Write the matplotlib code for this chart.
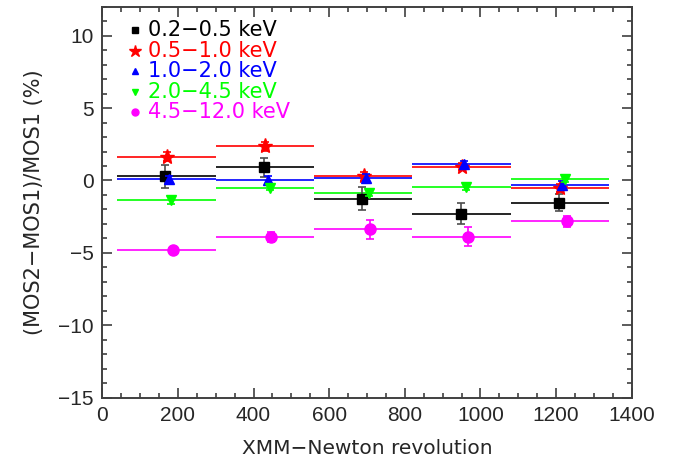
import numpy as np
import matplotlib
matplotlib.use('Agg')
import matplotlib.pyplot as plt

plt.rcParams['font.family'] = ['Liberation Sans', 'DejaVu Sans']

# bin edges in revolutions
bin_edges = [40, 300, 560, 820, 1080, 1340]

bands = ['0.2\u22120.5 keV', '0.5\u22121.0 keV', '1.0\u22122.0 keV',
         '2.0\u22124.5 keV', '4.5\u221212.0 keV']
colors = ['black', '#ff0000', '#0000ff', '#00ff00', '#ff00ff']
markers = ['s', '*', '^', 'v', 'o']
msizes = [7.5, 11, 7.5, 7.5, 8]
leg_msizes = [5, 9, 5, 5, 5]

# x position of each point (revolution)
rev_black = [166, 428, 687, 948, 1207]
rev_red = [172, 431, 692, 952, 1211]
rev_blue = [177, 437, 697, 956, 1216]
rev_green = [182, 443, 704, 963, 1223]
rev_magenta = [188, 447, 708, 968, 1228]

# (MOS2-MOS1)/MOS1 in percent
diff_black = [0.28, 0.90, -1.25, -2.29, -1.55]
diff_red = [1.65, 2.36, 0.28, 0.95, -0.53]
diff_blue = [0.07, 0.03, 0.19, 1.14, -0.32]
diff_green = [-1.36, -0.49, -0.85, -0.46, 0.09]
diff_magenta = [-4.81, -3.93, -3.38, -3.89, -2.80]

err_black = [0.80, 0.68, 0.80, 0.72, 0.59]
err_red = [0.30, 0.30, 0.30, 0.25, 0.30]
err_blue = [0.25, 0.25, 0.25, 0.20, 0.25]
err_green = [0.25, 0.20, 0.20, 0.20, 0.20]
err_magenta = [0.25, 0.35, 0.68, 0.65, 0.38]

revs = [rev_black, rev_red, rev_blue, rev_green, rev_magenta]
diffs = [diff_black, diff_red, diff_blue, diff_green, diff_magenta]
errs = [err_black, err_red, err_blue, err_green, err_magenta]

fig = plt.figure(figsize=(6.8, 4.66), dpi=100)
ax = fig.add_axes([0.1504, 0.1466, 0.7786, 0.839])

axcol = '0.25'
fs = 15
wide = ['DejaVu Sans']

for i in range(len(bands)):
    # horizontal line across each bin
    ax.hlines(diffs[i], bin_edges[:-1], bin_edges[1:], color=colors[i], lw=1.2)
for i in range(len(bands)):
    ax.errorbar(revs[i], diffs[i], yerr=errs[i], fmt='none', ecolor=colors[i] if i else '0.3',
                elinewidth=1.2, capsize=3, capthick=1.2)
    ax.plot(revs[i], diffs[i], ls='none', marker=markers[i], ms=msizes[i],
            color=colors[i], mec=colors[i])

# legend drawn by hand so the text takes the series colour
for i in range(len(bands)):
    y = 0.94 - i * 0.0525
    ax.plot([0.062], [y], transform=ax.transAxes, marker=markers[i],
            ms=leg_msizes[i], color=colors[i], ls='none', clip_on=False)
    ax.text(0.0865, y, bands[i], transform=ax.transAxes, color=colors[i],
            fontsize=fs, va='center', ha='left', family=wide)

ax.set_xlim(0, 1400)
ax.set_ylim(-15, 12)
ax.set_xticks(np.arange(0, 1401, 200))
ax.set_xticks(np.arange(0, 1401, 50), minor=True)
ax.set_yticks([-15, -10, -5, 0, 5, 10])
ax.set_yticklabels(['\u221215', '\u221210', '\u22125', '0', '5', '10'])
ax.set_yticks(np.arange(-15, 12.1, 1), minor=True)

ax.tick_params(which='both', direction='in', top=True, right=True,
               color=axcol, labelcolor='0.15', labelsize=fs, width=1.2)
ax.tick_params(which='major', length=7, pad=6)
ax.tick_params(which='minor', length=3.5)
for s in ax.spines.values():
    s.set_color(axcol)
    s.set_linewidth(1.4)

ax.set_xlabel('XMM\u2212Newton revolution', fontsize=14.5, color='0.15',
              labelpad=10, family=wide)
ax.set_ylabel('(MOS2\u2212MOS1)/MOS1 (%)', fontsize=fs, color='0.15',
              labelpad=10, family=wide)

fig.savefig('out.png', dpi=100)
